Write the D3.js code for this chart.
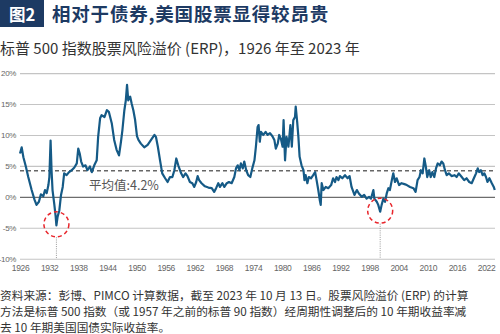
<!DOCTYPE html>
<html lang="zh">
<head>
<meta charset="UTF-8">
<title>股票风险溢价</title>
<script src="https://d3js.org/d3.v7.min.js"></script>
<style>
  body { margin: 0; background: #fff; }
  svg { display: block; }
  .tick text { font-family: "Liberation Sans Narrow", "Liberation Sans", sans-serif; letter-spacing: -0.35px; }
</style>
</head>
<body>
<div id="chart"></div>
<script>
// ERP, % (year as decimal)
var erpYears = [
  1926.0, 1926.35, 1926.7, 1927.2, 1927.7, 1928.4, 1929.0, 1929.4, 1929.9, 1930.3,
  1930.8, 1931.15, 1931.5, 1931.85, 1932.05, 1932.3, 1932.5, 1932.7, 1933.05, 1933.35,
  1933.5, 1933.75, 1934.1, 1934.45, 1934.8, 1935.1, 1935.6, 1936.1, 1936.65, 1937.2,
  1937.7, 1938.0, 1938.3, 1938.6, 1939.0, 1939.5, 1939.9, 1940.4, 1940.8, 1941.3,
  1941.8, 1942.1, 1942.5, 1942.8, 1943.4, 1943.9, 1944.3, 1944.9, 1945.4, 1945.9,
  1946.4, 1946.8, 1947.1, 1947.5, 1947.8, 1948.05, 1948.3, 1948.7, 1949.0, 1949.35,
  1949.7, 1950.1, 1950.4, 1950.9, 1951.6, 1952.3, 1953.0, 1953.7, 1954.0, 1954.4,
  1954.85, 1955.3, 1955.9, 1956.4, 1956.9, 1957.4, 1957.8, 1958.2, 1958.6, 1959.2,
  1959.6, 1960.1, 1960.5, 1961.0, 1961.5, 1961.9, 1962.3, 1962.6, 1962.9, 1963.4,
  1964.1, 1964.8, 1965.5, 1966.0, 1966.4, 1966.85, 1967.2, 1967.7, 1968.1, 1968.6,
  1969.05, 1969.6, 1970.15, 1970.5, 1970.85, 1971.2, 1971.5, 1971.9, 1972.2, 1972.6,
  1973.0, 1973.45, 1973.85, 1974.3, 1974.6, 1974.95, 1975.15, 1975.4, 1975.65, 1976.1,
  1976.6, 1977.0, 1977.5, 1978.0, 1978.4, 1978.7, 1979.1, 1979.4, 1979.8, 1980.1,
  1980.3, 1980.6, 1980.9, 1981.3, 1981.7, 1982.0, 1982.3, 1982.65, 1982.8, 1983.1,
  1983.35, 1983.6, 1984.0, 1984.4, 1984.6, 1984.85, 1985.2, 1985.5, 1985.95, 1986.4,
  1986.8, 1987.1, 1987.45, 1987.75, 1987.95, 1988.15, 1988.5, 1989.0, 1989.5, 1990.1,
  1990.5, 1990.9, 1991.2, 1991.6, 1991.9, 1992.4, 1992.95, 1993.5, 1993.9, 1994.3,
  1994.9, 1995.4, 1995.8, 1996.4, 1996.9, 1997.4, 1997.9, 1998.3, 1998.8, 1999.0,
  1999.5, 1999.8, 2000.2, 2000.5, 2000.85, 2001.2, 2001.55, 2001.9, 2002.2, 2002.6,
  2002.9, 2003.25, 2003.6, 2004.1, 2004.6, 2005.2, 2005.7, 2006.35, 2007.05, 2007.5,
  2007.9, 2008.3, 2008.6, 2008.95, 2009.3, 2009.6, 2009.9, 2010.3, 2010.6, 2010.95,
  2011.35, 2011.7, 2012.05, 2012.5, 2012.85, 2013.2, 2013.55, 2013.9, 2014.35, 2014.9,
  2015.5, 2015.95, 2016.4, 2017.0, 2017.5, 2018.0, 2018.55, 2019.05, 2019.5, 2019.95,
  2020.3, 2020.6, 2020.95, 2021.3, 2021.65, 2022.0, 2022.3, 2022.7, 2023.2, 2023.6,
  2023.8
];
var erpValues = [
  7.0, 8.0, 6.4, 4.9, 3.2, 1.1, -0.5, -1.3, -0.8, 0.4,
  0.1, 1.1, 0.6, 1.9, 3.2, 9.1, 4.3, 1.1, -1.1, -3.2,
  -4.6, -3.2, -2.2, 0.3, 1.6, 3.8, 3.5, 4.0, 4.3, 4.75,
  5.4, 7.8, 7.0, 5.7, 4.9, 5.1, 4.3, 4.9, 4.0, 5.1,
  5.9, 9.7, 12.7, 13.2, 12.9, 14.0, 13.75, 11.9, 9.2, 7.6,
  6.7, 8.9, 10.8, 14.0, 15.6, 18.1, 15.6, 16.2, 15.1, 14.0,
  12.5, 9.8, 9.2, 8.6, 8.0, 8.4, 9.2, 10.0, 9.7, 8.1,
  5.9, 3.8, 3.0, 2.4, 3.2, 3.2, 4.3, 6.2, 5.1, 3.8,
  3.2, 3.8, 3.35, 2.4, 2.2, 1.6, 2.4, 3.35, 2.7, 2.2,
  1.7, 1.5, 1.4, 0.8, 1.4, 2.2, 1.6, 2.2, 1.6, 2.2,
  2.4, 2.2, 3.2, 4.6, 5.1, 4.3, 5.4, 4.6, 5.7, 4.3,
  3.5, 3.2, 4.6, 5.9, 8.1, 11.3, 11.6, 8.9, 10.5, 10.0,
  10.5, 10.0, 10.3, 9.8, 9.2, 7.8, 8.6, 10.0, 9.2, 8.1,
  12.4, 5.9, 9.7, 8.1, 11.6, 8.1, 12.4, 12.9, 14.6, 12.1,
  9.7, 6.5, 5.1, 4.3, 2.7, 3.5, 2.2, 3.2, 3.0, 3.5,
  4.0, 2.7, 1.1, -0.5, -1.3, 2.2, 1.1, 1.6, 1.4, 1.9,
  3.0, 2.4, 3.2, 2.7, 3.35, 3.0, 3.5, 3.0, 3.35, 1.6,
  0.3, 1.1, 0.55, 0.0, 0.3, -0.3, 0.0, -0.3, 1.1, -0.3,
  -0.8, -1.3, -2.4, -1.3, -0.3, -0.8, 0.55, 1.4, 1.1, 2.7,
  3.8, 2.4, 3.0, 1.9, 2.2, 2.05, 1.9, 1.6, 1.4, 0.8,
  2.7, 3.2, 4.3, 3.8, 6.2, 4.9, 3.2, 4.3, 3.2, 4.0,
  3.2, 4.6, 5.4, 5.1, 5.7, 5.4, 4.3, 3.5, 3.8, 3.35,
  3.5, 3.2, 3.8, 3.2, 2.7, 3.0, 2.4, 2.2, 3.0, 3.8,
  4.6, 4.0, 4.3, 3.5, 3.8, 3.2, 2.4, 3.0, 2.2, 1.6,
  1.1
];

var yTicks = [-10, -5, 0, 5, 10, 15, 20];
var xTicks = [1926, 1932, 1938, 1944, 1950, 1956, 1962, 1968, 1974, 1980, 1986, 1992, 1998, 2004, 2010, 2016, 2022];
var avgErp = 4.2;
// the two lows that get a dashed ring
var lowYears = [1933.5, 2000.2];
var lowValues = [-4.6, -2.4];

var titleText = "相对于债券,美国股票显得较昂贵";
var subtitleText = "标普 500 指数股票风险溢价 (ERP)，1926 年至 2023 年";
var noteLines = [
  "资料来源：彭博、PIMCO 计算数据，截至 2023 年 10 月 13 日。股票风险溢价 (ERP) 的计算",
  "方法是标普 500 指数（或 1957 年之前的标普 90 指数）经周期性调整后的 10 年期收益率减",
  "去 10 年期美国国债实际收益率。"
];

var W = 500, H = 334;
var cjk = '"Noto Sans CJK SC", "Noto Sans", sans-serif';
var navy = "#1d3a63";
var lineColor = "#155a86";

var svg = d3.select("#chart").append("svg").attr("width", W).attr("height", H);

// heading
svg.append("rect").attr("x", 0).attr("y", 0).attr("width", 44).attr("height", 27).attr("fill", navy);
svg.append("text").attr("x", 22).attr("y", 20.5).attr("text-anchor", "middle")
  .style("font-family", cjk).style("font-weight", "bold").style("font-size", "16.5px")
  .attr("fill", "#fff").text("图2");
svg.append("text").attr("x", 52).attr("y", 21)
  .style("font-family", cjk).style("font-weight", "bold").style("font-size", "18.5px")
  .style("letter-spacing", "0.8px")
  .attr("fill", navy).text(titleText);
svg.append("text").attr("x", 0).attr("y", 54)
  .style("font-family", cjk).style("font-size", "15px")
  .attr("fill", "#333").text(subtitleText);

var x = d3.scaleLinear().domain([1926, 2022]).range([20, 486]);
var y = d3.scaleLinear().domain([-10, 20]).range([258.7, 73.1]);

// y grid + labels
var yAxis = svg.append("g").attr("transform", "translate(20,0)")
  .call(d3.axisLeft(y).tickValues(yTicks).tickSize(-475).tickPadding(4).tickFormat(function(d){ return d + "%"; }));
yAxis.select(".domain").remove();
yAxis.selectAll(".tick line")
  .attr("stroke", function(d){ return d === 0 ? "#6d6d6d" : "#c4c4c4"; })
  .attr("stroke-width", function(d){ return d === 0 ? 1.3 : 1.1; });
yAxis.selectAll(".tick text").attr("fill", "#666").style("font-size", "8px");

// x labels
var xAxis = svg.append("g").attr("transform", "translate(0," + y(-10) + ")")
  .call(d3.axisBottom(x).tickValues(xTicks).tickSize(0).tickPadding(6).tickFormat(d3.format("d")));
xAxis.select(".domain").remove();
xAxis.selectAll(".tick text").attr("fill", "#666").style("font-size", "8.5px");

// dotted drop lines under the rings
svg.selectAll(".drop").data(lowYears).enter().append("line")
  .attr("class", "drop")
  .attr("x1", function(d){ return x(d); }).attr("x2", function(d){ return x(d); })
  .attr("y1", function(d, i){ return y(lowValues[i]) + 12; })
  .attr("y2", y(-10))
  .attr("stroke", "#999").attr("stroke-width", 1).attr("stroke-dasharray", "1,1.2");

// average
svg.append("line").attr("x1", 20).attr("x2", 495).attr("y1", y(avgErp)).attr("y2", y(avgErp))
  .attr("stroke", "#666").attr("stroke-width", 1.5).attr("stroke-dasharray", "4,3");
svg.append("text").attr("x", 89).attr("y", 189.5)
  .style("font-family", cjk).style("font-size", "12.5px")
  .attr("fill", "#555").text("平均值:" + avgErp + "%");

// ERP line
var pts = erpYears.map(function(d, i){ return [d, erpValues[i]]; });
svg.append("path").datum(pts)
  .attr("d", d3.line().x(function(d){ return x(d[0]); }).y(function(d){ return y(d[1]); }))
  .attr("fill", "none").attr("stroke", lineColor).attr("stroke-width", 2.2)
  .attr("stroke-linejoin", "round");

// rings
svg.selectAll(".ring").data(lowYears).enter().append("circle")
  .attr("class", "ring")
  .attr("cx", function(d){ return x(d); })
  .attr("cy", function(d, i){ return y(lowValues[i]) - 1; })
  .attr("r", 12.5)
  .attr("fill", "none").attr("stroke", "#e8262c").attr("stroke-width", 1.5)
  .attr("stroke-dasharray", "4,3");

// source note
svg.selectAll(".note").data(noteLines).enter().append("text")
  .attr("class", "note")
  .attr("x", 0).attr("y", function(d, i){ return 299.5 + i * 16; })
  .style("font-family", cjk).style("font-size", "11.7px")
  .attr("fill", "#333").text(function(d){ return d; });
</script>
</body>
</html>
